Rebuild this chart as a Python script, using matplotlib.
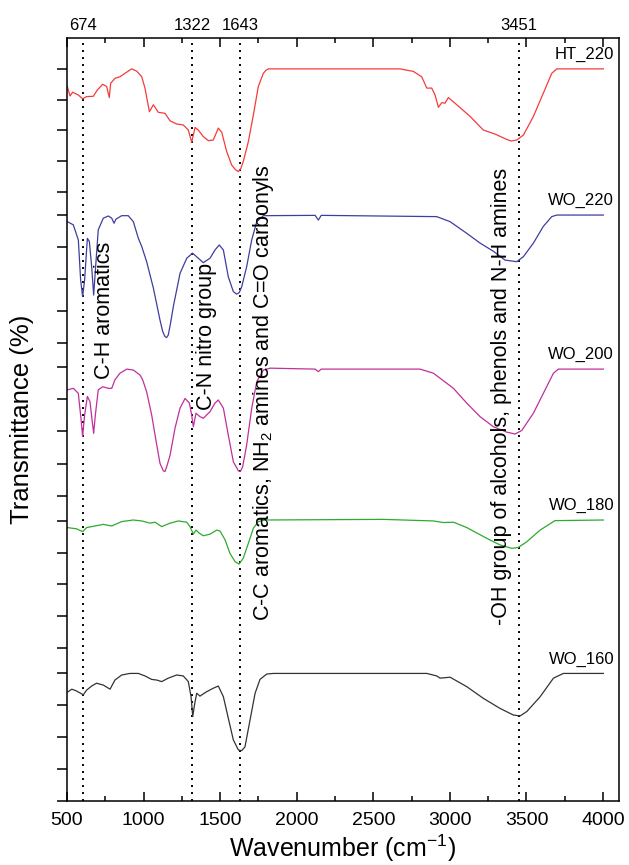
import numpy as np
import matplotlib
matplotlib.use("Agg")
from matplotlib import pyplot as plt
from matplotlib.ticker import MultipleLocator

plt.rcParams['font.family'] = ['Liberation Sans', 'DejaVu Sans']
plt.rcParams['mathtext.default'] = 'regular'

# spectra: wavenumber (cm-1) and transmittance in tick units
ht220_wn = [502, 520, 537, 574, 602, 628, 672, 698, 733, 759, 776, 785, 813, 846, 879, 922, 955, 988,
            1009, 1038, 1064, 1096, 1140, 1173, 1216, 1259, 1292, 1314, 1336, 1357, 1390, 1423, 1455,
            1488, 1510, 1543, 1575, 1600, 1619, 1635, 1651, 1684, 1717, 1749, 1782, 1800, 1815, 2217,
            2674, 2761, 2816, 2849, 2881, 2903, 2925, 2947, 2968, 2990, 3045, 3132, 3218, 3295, 3371,
            3400, 3436, 3480, 3545, 3610, 3665, 3698, 4002]
ht220_t = [3.34, 3.04, 3.16, 3.07, 2.95, 3.02, 3.03, 3.23, 3.41, 3.34, 2.99, 3.44, 3.60, 3.65, 3.76, 3.90,
           3.83, 3.65, 3.29, 2.54, 2.76, 2.52, 2.49, 2.25, 2.15, 2.12, 1.96, 1.57, 2.04, 1.96, 1.75, 1.62,
           1.64, 2.02, 1.89, 1.27, 0.85, 0.70, 0.64, 0.74, 0.96, 1.59, 2.44, 3.34, 3.76, 3.86, 3.90, 3.90,
           3.90, 3.82, 3.65, 3.29, 3.29, 3.07, 2.68, 2.83, 2.81, 2.99, 2.76, 2.39, 1.96, 1.83, 1.66, 1.61,
           1.64, 1.80, 2.39, 3.13, 3.76, 3.90, 3.90]

wo220_wn = [502, 541, 574, 589, 602, 615, 633, 646, 661, 674, 687, 704, 737, 770, 792, 807, 820, 857, 900,
            933, 966, 988, 1020, 1064, 1107, 1125, 1140, 1150, 1161, 1175, 1194, 1238, 1282, 1320, 1357,
            1390, 1434, 1466, 1494, 1521, 1553, 1586, 1608, 1625, 1641, 1673, 1706, 1739, 1782, 2120,
            2141, 2160, 2914, 3001, 3110, 3197, 3284, 3360, 3436, 3480, 3545, 3610, 3665, 3698, 4002]
wo220_t = [3.85, 3.75, 3.27, 2.00, 1.47, 2.00, 3.32, 3.22, 2.42, 1.52, 2.42, 3.59, 3.96, 4.03, 3.96, 3.80,
           3.93, 4.04, 4.04, 3.85, 3.32, 3.06, 2.58, 1.74, 0.73, 0.36, 0.20, 0.17, 0.25, 0.60, 1.15, 2.21,
           2.69, 2.85, 2.69, 2.55, 2.69, 2.95, 3.11, 2.95, 2.10, 1.63, 1.55, 1.60, 1.79, 2.42, 3.27, 3.85,
           4.04, 4.05, 3.90, 4.05, 4.01, 3.85, 3.48, 3.17, 2.91, 2.63, 2.58, 2.74, 3.17, 3.70, 4.01, 4.06,
           4.06]

wo200_wn = [502, 541, 574, 591, 602, 615, 633, 650, 665, 674, 685, 704, 733, 770, 792, 813, 846, 890, 933,
            977, 994, 1020, 1053, 1086, 1107, 1129, 1140, 1151, 1173, 1205, 1238, 1271, 1299, 1314, 1325,
            1342, 1368, 1390, 1434, 1466, 1488, 1521, 1553, 1586, 1619, 1632, 1647, 1673, 1706, 1739,
            1782, 1826, 2120, 2141, 2160, 2805, 2892, 2936, 3023, 3110, 3197, 3284, 3371, 3425, 3469,
            3545, 3610, 3676, 3708, 4002]
wo200_t = [3.37, 3.42, 3.26, 2.47, 1.89, 2.57, 3.16, 3.00, 2.36, 1.99, 2.57, 3.37, 3.47, 3.42, 3.42, 3.69,
           3.90, 4.03, 4.00, 3.84, 3.69, 3.31, 2.57, 1.62, 1.04, 0.80, 0.78, 0.93, 1.30, 2.15, 2.79, 3.10,
           2.95, 2.57, 2.20, 2.63, 2.52, 2.47, 2.68, 2.95, 3.05, 2.79, 1.94, 1.09, 0.80, 0.78, 0.93, 1.62,
           2.79, 3.63, 4.00, 4.06, 4.03, 3.95, 4.03, 4.03, 3.90, 3.74, 3.42, 2.95, 2.52, 2.20, 2.03, 1.97,
           2.08, 2.63, 3.26, 3.90, 4.03, 4.03]

wo180_wn = [502, 563, 602, 628, 693, 737, 792, 857, 933, 988, 1042, 1075, 1118, 1173, 1227, 1282, 1303,
            1325, 1342, 1364, 1390, 1434, 1477, 1499, 1532, 1564, 1597, 1623, 1651, 1684, 1717, 1749,
            1793, 2565, 2892, 2957, 3023, 3110, 3240, 3327, 3404, 3447, 3502, 3589, 3686, 4002]
wo180_t = [3.82, 3.78, 3.69, 3.82, 3.88, 3.92, 3.87, 4.01, 4.06, 4.03, 3.96, 3.99, 3.85, 3.96, 4.03, 3.99,
           3.85, 3.61, 3.74, 3.64, 3.56, 3.61, 3.74, 3.71, 3.43, 3.00, 2.74, 2.66, 2.85, 3.32, 3.80, 4.01,
           4.06, 4.08, 4.03, 3.98, 3.99, 3.82, 3.48, 3.27, 3.16, 3.19, 3.37, 3.74, 4.04, 4.06]

wo160_wn = [508, 531, 559, 589, 606, 628, 661, 693, 737, 781, 813, 857, 911, 966, 1009, 1053, 1086, 1118,
            1161, 1216, 1259, 1292, 1310, 1321, 1334, 1347, 1368, 1412, 1455, 1488, 1521, 1553, 1586,
            1619, 1641, 1662, 1695, 1728, 1760, 1804, 1847, 2849, 2914, 2936, 3001, 3110, 3218, 3327,
            3414, 3458, 3502, 3589, 3676, 3741, 4002]
wo160_t = [3.46, 3.54, 3.49, 3.41, 3.36, 3.51, 3.64, 3.73, 3.67, 3.54, 3.83, 3.99, 4.04, 4.04, 3.96, 3.85,
           3.83, 3.78, 3.89, 3.99, 3.96, 3.78, 3.30, 2.67, 3.09, 3.41, 3.32, 3.46, 3.57, 3.64, 3.30, 2.62,
           1.93, 1.61, 1.59, 1.71, 2.56, 3.41, 3.85, 4.02, 4.04, 4.04, 3.96, 3.89, 3.92, 3.62, 3.25, 2.93,
           2.72, 2.69, 2.83, 3.30, 3.89, 4.04, 4.04]

samples = ["HT_220", "WO_220", "WO_200", "WO_180", "WO_160"]
colors = ["#f53b3b", "#3e3e9c", "#c0309a", "#2eaa2e", "#333333"]
offsets = [19.33, 14.53, 9.67, 4.85, 0.0]
tick_step = [0.975, 1.015, 1.025, 1.0075, 1.015]

peak_pos = [604, 1316, 1628, 3448]
peak_labels = ["674", "1322", "1643", "3451"]

annotations = ["C-H aromatics", "C-N nitro group",
               "C-C aromatics, NH$_2$ amines and C=O carbonyls",
               "-OH group of alcohols, phenols and N-H amines"]
annot_x = [742, 1408, 1780, 3334]
annot_y = [15.55, 14.74, 12.96, 12.82]

spectra = [(ht220_wn, ht220_t), (wo220_wn, wo220_t), (wo200_wn, wo200_t),
           (wo180_wn, wo180_t), (wo160_wn, wo160_t)]

fig = plt.figure(figsize=(6.29, 8.65), dpi=100)
ax = fig.add_axes([67/629, 1 - 800.7/865, (619 - 67)/629, (800.7 - 38)/865])

for (wn, t), name, c, off in zip(spectra, samples, colors, offsets):
    y = np.array(t) + off
    ax.plot(wn, y, color=c, lw=0.9)
    ax.text(4072, off + max(t) + 0.45, name, ha="right", va="center", fontsize=12)

for p in peak_pos:
    ax.axvline(p, color="black", lw=1.4, linestyle=(0, (1, 2.6)), zorder=0)

for txt, x, y in zip(annotations, annot_x, annot_y):
    ax.text(x, y, txt, rotation=90, ha="center", va="center", fontsize=15.5)

ax.set_xlim(500, 4104)
ax.set_ylim(0, 24.21)
ax.xaxis.set_major_locator(MultipleLocator(500))
ax.xaxis.set_minor_locator(MultipleLocator(250))
yt = []
for off, st in zip(offsets, tick_step):
    yt += [off + k*st for k in range(5)]
ax.set_yticks(yt)
ax.tick_params(axis="x", which="both", direction="in", top=True, labelsize=14, width=1.1, pad=8)
ax.tick_params(axis="x", which="major", length=6.5)
ax.tick_params(axis="x", which="minor", length=3.6)
ax.tick_params(axis="y", direction="out", length=7, width=1.1, labelleft=False)
for s in ax.spines.values():
    s.set_linewidth(1.1)

sec = ax.secondary_xaxis("top")
sec.set_xticks(peak_pos)
sec.set_xticklabels(peak_labels)
sec.tick_params(length=0, labelsize=12, pad=3.5)
sec.spines["top"].set_visible(False)

ax.set_xlabel("Wavenumber (cm$^{-1}$)", fontsize=18, labelpad=3)
ax.set_ylabel("Transmittance (%)", fontsize=18.5, labelpad=17)

fig.savefig("out.png", dpi=100)
